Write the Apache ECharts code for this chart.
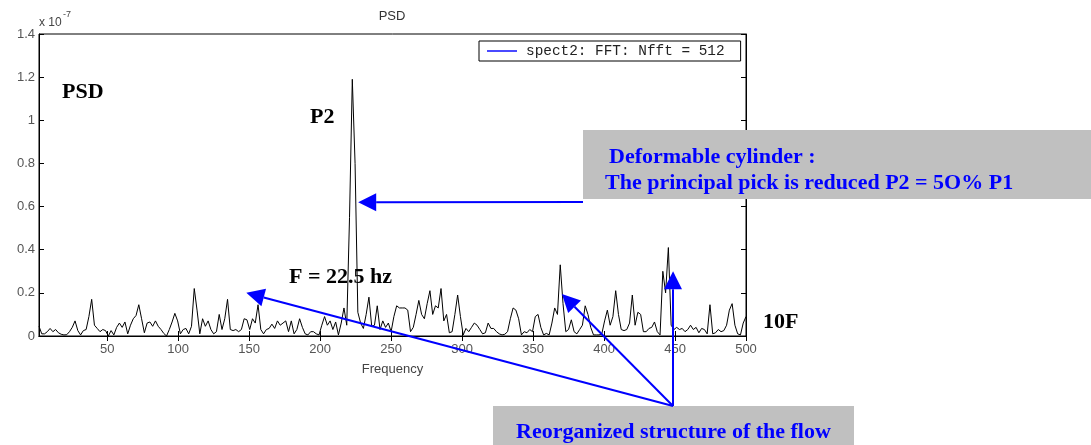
<!DOCTYPE html>
<html>
<head>
<meta charset="utf-8">
<script src="https://cdn.jsdelivr.net/npm/echarts@6/dist/echarts.min.js"></script>
<style>
  html, body { margin: 0; padding: 0; background: #fff; }
  #chart { width: 1091px; height: 445px; }
</style>
</head>
<body>
<div id="chart"></div>
<script>
// PSD values, in units of 1e-7, one per FFT bin (k = 1..256)
const psd = [
  0.045, 0.01, 0.01, 0.02, 0.035, 0.02, 0.03, 0.015, 0.008, 0.005,
  0.006, 0.02, 0.04, 0.07, 0.025, 0.005, 0.025, 0.03, 0.09, 0.17,
  0.05, 0.035, 0.02, 0.03, 0.025, 0.0, 0.025, 0.005, 0.04, 0.06,
  0.04, 0.065, 0.01, 0.05, 0.08, 0.095, 0.145, 0.08, 0.015, 0.06,
  0.065, 0.045, 0.07, 0.045, 0.03, 0.012, 0.0, 0.03, 0.065, 0.105,
  0.07, 0.01, 0.03, 0.035, 0.01, 0.045, 0.22, 0.12, 0.01, 0.08,
  0.045, 0.07, 0.03, 0.01, 0.02,
  0.1, 0.03, 0.08, 0.17, 0.03, 0.025, 0.03, 0.02, 0.03, 0.08,
  0.075, 0.03, 0.08, 0.06, 0.145, 0.03, 0.01, 0.03, 0.035, 0.055,
  0.035, 0.07, 0.05, 0.06, 0.07, 0.02, 0.07, 0.01, 0.03, 0.08,
  0.04, 0.01, 0.005, 0.02, 0.02, 0.01, 0.005, 0.05, 0.09, 0.05,
  0.07, 0.03, 0.065, 0.005, 0.06, 0.13, 0.05, 0.55, 1.19, 0.8,
  0.11, 0.06, 0.035, 0.1, 0.18, 0.045, 0.05, 0.14, 0.03, 0.07,
  0.04, 0.06, 0.02,
  0.09, 0.14, 0.13, 0.13, 0.13, 0.12, 0.02, 0.04, 0.1, 0.165,
  0.1, 0.08, 0.15, 0.21, 0.1, 0.14, 0.13, 0.22, 0.07, 0.1,
  0.015, 0.02, 0.1, 0.19, 0.09, 0.005, 0.035, 0.02, 0.04, 0.06,
  0.05, 0.03, 0.01, 0.015, 0.06, 0.035, 0.035, 0.02, 0.01, 0.005,
  0.008, 0.02, 0.08, 0.13, 0.12, 0.08, 0.005, 0.02, 0.015, 0.03,
  0.02, 0.09, 0.1, 0.04, 0.005, 0.012, 0.005, 0.06, 0.13, 0.1,
  0.33, 0.15,
  0.02, 0.03, 0.075, 0.02, 0.01, 0.03, 0.05, 0.14, 0.1, 0.04,
  0.005, 0.005, 0.005, 0.01, 0.07, 0.12, 0.05, 0.09, 0.21, 0.1,
  0.03, 0.025, 0.03, 0.06, 0.19, 0.05, 0.11, 0.1, 0.02, 0.02,
  0.035, 0.04, 0.065, 0.02, 0.005, 0.3, 0.2, 0.41, 0.05, 0.03,
  0.04, 0.03, 0.035, 0.02, 0.03, 0.05, 0.03, 0.04, 0.015, 0.035,
  0.03, 0.01, 0.145, 0.01, 0.015, 0.03, 0.02, 0.025, 0.05, 0.12,
  0.15, 0.05, 0.01, 0.005, 0.06, 0.09
];
const nfft = 512;
const fs = 1000;                 // so bins go up to 500 Hz
const df = fs / nfft;
const xTicks = [50, 100, 150, 200, 250, 300, 350, 400, 450, 500];
const legendName = 'spect2: FFT: Nfft = 512';

// annotation texts
const noteBlack = { psd: 'PSD', p2: 'P2', f: 'F = 22.5 hz', tenF: '10F' };
const noteBox1 = ['Deformable cylinder :', 'The principal pick is reduced P2 = 5O% P1'];
const noteBox2 = 'Reorganized structure of the flow';

const seriesData = psd.map((v, i) => [(i + 1) * df, v]);

const axisCommon = {
  axisLine: { show: true, lineStyle: { color: '#000', width: 1 } },
  splitLine: { show: false }
};

const option = {
  animation: false,
  backgroundColor: '#fff',
  title: {
    text: 'PSD',
    left: 392,
    top: 10,
    textAlign: 'center',
    padding: 0,
    textStyle: { fontFamily: 'Liberation Sans', fontSize: 13, fontWeight: 'normal', color: '#333' }
  },
  legend: {
    left: 479,
    top: 41,
    padding: [3, 16, 3, 8],
    borderColor: '#000',
    borderWidth: 1,
    backgroundColor: '#fff',
    itemWidth: 30,
    itemHeight: 2,
    textStyle: { fontFamily: 'Liberation Mono', fontSize: 14.4, color: '#222', padding: [0, 0, 0, 4] },
    data: [{ name: legendName, icon: 'rect', itemStyle: { color: '#4a4aff' } }]
  },
  grid: {
    left: 39, right: 345, top: 34, bottom: 109,
    show: true, borderColor: '#000', borderWidth: 1
  },
  xAxis: [
    Object.assign({}, axisCommon, {
      type: 'value', min: 1.953, max: 500, position: 'bottom',
      name: 'Frequency', nameLocation: 'middle', nameGap: 27,
      nameTextStyle: { fontFamily: 'Liberation Sans', fontSize: 13, color: '#444' },
      axisTick: { inside: true, length: 5, customValues: xTicks, lineStyle: { color: '#000' } },
      axisLabel: { customValues: xTicks, fontFamily: 'Liberation Sans', fontSize: 13, color: '#555', margin: 7 }
    }),
    Object.assign({}, axisCommon, {
      type: 'value', min: 1.953, max: 500, position: 'top',
      axisTick: { inside: true, length: 5, customValues: xTicks, lineStyle: { color: '#000' } },
      axisLabel: { show: false }
    })
  ],
  yAxis: [
    Object.assign({}, axisCommon, {
      type: 'value', min: 0, max: 1.4, interval: 0.2, position: 'left',
      axisTick: { inside: true, length: 5, lineStyle: { color: '#000' } },
      axisLabel: { fontFamily: 'Liberation Sans', fontSize: 13, color: '#555', margin: 4 }
    }),
    Object.assign({}, axisCommon, {
      type: 'value', min: 0, max: 1.4, interval: 0.2, position: 'right',
      axisTick: { inside: true, length: 5, lineStyle: { color: '#000' } },
      axisLabel: { show: false }
    })
  ],
  series: [{
    name: legendName,
    type: 'line',
    xAxisIndex: 0,
    yAxisIndex: 0,
    symbol: 'none',
    lineStyle: { color: '#000', width: 1 },
    data: seriesData
  }]
};

const chart = echarts.init(document.getElementById('chart'));
chart.setOption(option);

// ---- annotations ----
const blue = '#0000ff';
const px = (f, v) => chart.convertToPixel({ seriesIndex: 0 }, [f, v]);

function arrow(from, to) {
  const dx = to[0] - from[0], dy = to[1] - from[1];
  const len = Math.sqrt(dx * dx + dy * dy);
  const ux = dx / len, uy = dy / len;
  const headLen = 18, halfW = 9;
  const bx = to[0] - ux * headLen, by = to[1] - uy * headLen;
  return [
    { type: 'line', z: 100, shape: { x1: from[0], y1: from[1], x2: bx, y2: by },
      style: { stroke: blue, lineWidth: 2 } },
    { type: 'polygon', z: 100,
      shape: { points: [to, [bx - uy * halfW, by + ux * halfW], [bx + uy * halfW, by - ux * halfW]] },
      style: { fill: blue } }
  ];
}

function label(text, x, y, size, color) {
  return { type: 'text', z: 100, style: {
    text: text, x: x, y: y, fill: color, verticalAlign: 'middle',
    font: 'bold ' + size + 'px "Liberation Serif", "Times New Roman", serif'
  } };
}

const flowOrigin = [673, 406];
const graphics = [
  { type: 'text', z: 100, style: { text: 'x 10', x: 39, y: 23, verticalAlign: 'middle',
    font: '12px "Liberation Sans"', fill: '#444' } },
  { type: 'text', z: 100, style: { text: '-7', x: 63, y: 15, verticalAlign: 'middle',
    font: '9px "Liberation Sans"', fill: '#444' } },
  label(noteBlack.psd, 62, 92, 22, '#000'),
  label(noteBlack.p2, 310, 117, 22, '#000'),
  label(noteBlack.f, 289, 277, 22, '#000'),
  label(noteBlack.tenF, 763, 322, 22, '#000'),
  { type: 'rect', z: 99, shape: { x: 583, y: 130, width: 510, height: 69 }, style: { fill: '#c0c0c0' } },
  label(noteBox1[0], 609, 157, 22, blue),
  label(noteBox1[1], 605, 183, 22, blue),
  { type: 'rect', z: 99, shape: { x: 493, y: 406, width: 361, height: 45 }, style: { fill: '#c0c0c0' } },
  label(noteBox2, 516, 432, 22, blue)
]
  .concat(arrow([583, 202], px(226.8, 0.62)))
  .concat(arrow(flowOrigin, px(148, 0.2)))
  .concat(arrow(flowOrigin, px(370.3, 0.195)))
  .concat(arrow(flowOrigin, px(448.6, 0.3)));

chart.setOption({ graphic: graphics });
</script>
</body>
</html>
